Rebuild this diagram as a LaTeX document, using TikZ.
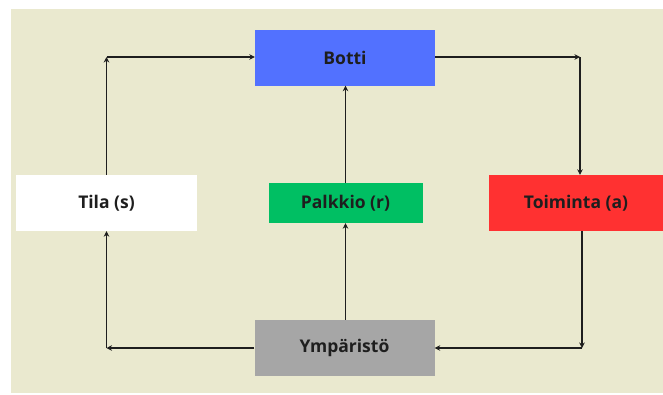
\documentclass[tikz,border=0pt]{standalone}
\usepackage{fontspec}
\setmainfont{Open Sans}
\usetikzlibrary{arrows.meta}
\definecolor{panel}{HTML}{EAE9CF}
\definecolor{botblue}{HTML}{5271FF}
\definecolor{rewgreen}{HTML}{00BF63}
\definecolor{actred}{HTML}{FF3131}
\definecolor{envgray}{HTML}{A6A6A6}
\definecolor{ink}{HTML}{1E1E1E}
\begin{document}
\begin{tikzpicture}[x=1pt,y=-1pt,
  box/.style={rectangle, inner sep=0pt, text=ink,
    font=\bfseries\fontsize{17.5}{20}\selectfont},
  flow/.style={draw=ink, line width=1.6pt,
    -{Stealth[length=5.5pt,width=5.5pt]}}]
\useasboundingbox (0,0) rectangle (663,394);
\fill[panel] (11,9) rectangle (663,393);

% the five blocks of the loop
\node[box, fill=botblue, minimum width=180pt, minimum height=56pt] (botti) at (345,57.5) {Botti};
\node[box, fill=white, minimum width=181pt, minimum height=56pt] (tila) at (106.5,203) {Tila (s)};
\node[box, fill=rewgreen, minimum width=154pt, minimum height=40pt] (palk) at (345.5,203) {Palkkio (r)};
\node[box, fill=actred, minimum width=174pt, minimum height=56pt] (toim) at (576,203) {Toiminta (a)};
\node[box, fill=envgray, minimum width=180pt, minimum height=56pt] (ymp) at (344.5,348) {Ympäristö};

% corner points of the loop
\coordinate (tl) at (106.5,57);
\coordinate (tr) at (580,57);
\coordinate (br) at (582,348);
\coordinate (bl) at (106.5,348);

% state to bot
\draw[flow] (tila.north) -- (tl);
\draw[flow] (tl) -- (tl -| botti.west);
% bot to action
\draw[flow] (tl -| botti.east) -- (tr);
\draw[flow] (tr) -- (tr |- toim.north);
% action to environment
\draw[flow] (br |- toim.south) -- (br);
\draw[flow] (br) -- (ymp.east);
% environment to state
\draw[flow] (ymp.west) -- (bl);
\draw[flow] (bl) -- (tila.south);
% environment to reward to bot
\draw[flow] (palk.south |- ymp.north) -- (palk.south);
\draw[flow] (palk.north) -- (palk.north |- botti.south);
\end{tikzpicture}
\end{document}
